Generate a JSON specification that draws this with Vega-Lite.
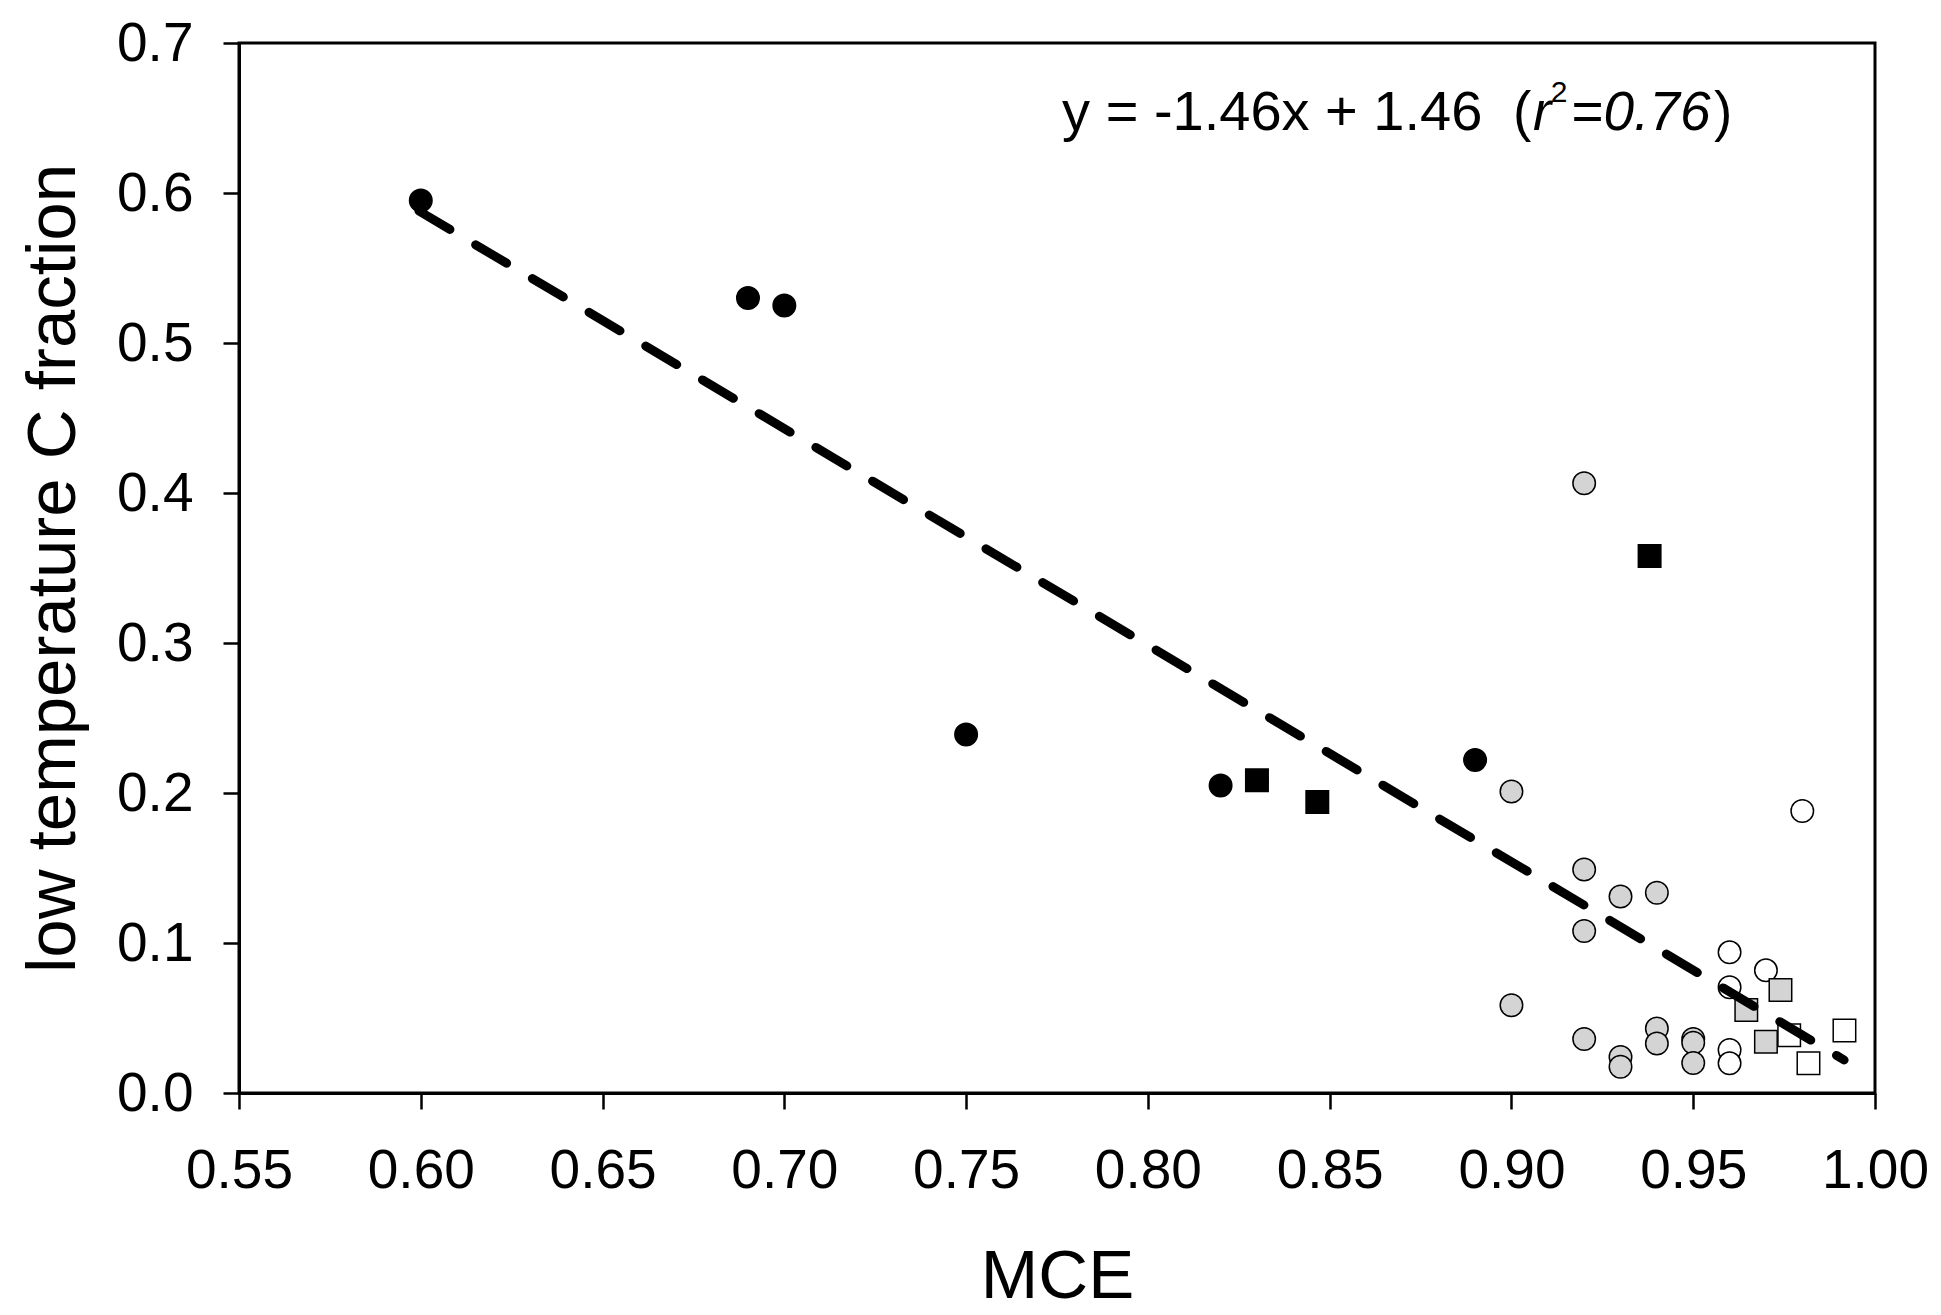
{
  "$schema": "https://vega.github.io/schema/vega-lite/v6.json",
  "width": 1636,
  "height": 1050,
  "autosize": {"type": "none"},
  "padding": {"left": 239, "top": 43, "right": 66, "bottom": 222},
  "background": "white",
  "config": {
    "view": {"stroke": "black", "strokeWidth": 3},
    "axis": {
      "grid": false,
      "domainColor": "black",
      "domainWidth": 3,
      "tickColor": "black",
      "tickWidth": 2.5,
      "tickSize": 16,
      "labelFont": "Liberation Sans",
      "labelFontSize": 55,
      "labelColor": "black",
      "labelFlush": false,
      "labelOverlap": false,
      "titleFont": "Liberation Sans",
      "titleFontSize": 69,
      "titleFontWeight": "normal",
      "titleColor": "black"
    },
    "axisX": {"labelPadding": 35, "titlePadding": 44},
    "axisY": {"labelPadding": 30, "titlePadding": 28}
  },
  "layer": [
    {
      "data": {
        "values": [
          {"mce": 0.600, "ltc": 0.595, "group": "black circle"},
          {"mce": 0.690, "ltc": 0.530, "group": "black circle"},
          {"mce": 0.700, "ltc": 0.525, "group": "black circle"},
          {"mce": 0.750, "ltc": 0.239, "group": "black circle"},
          {"mce": 0.820, "ltc": 0.205, "group": "black circle"},
          {"mce": 0.890, "ltc": 0.222, "group": "black circle"},
          {"mce": 0.920, "ltc": 0.4065, "group": "gray circle"},
          {"mce": 0.900, "ltc": 0.201, "group": "gray circle"},
          {"mce": 0.920, "ltc": 0.149, "group": "gray circle"},
          {"mce": 0.930, "ltc": 0.131, "group": "gray circle"},
          {"mce": 0.940, "ltc": 0.1335, "group": "gray circle"},
          {"mce": 0.920, "ltc": 0.108, "group": "gray circle"},
          {"mce": 0.900, "ltc": 0.0585, "group": "gray circle"},
          {"mce": 0.920, "ltc": 0.036, "group": "gray circle"},
          {"mce": 0.930, "ltc": 0.024, "group": "gray circle"},
          {"mce": 0.930, "ltc": 0.0175, "group": "gray circle"},
          {"mce": 0.940, "ltc": 0.043, "group": "gray circle"},
          {"mce": 0.940, "ltc": 0.033, "group": "gray circle"},
          {"mce": 0.950, "ltc": 0.036, "group": "gray circle"},
          {"mce": 0.950, "ltc": 0.0335, "group": "gray circle"},
          {"mce": 0.950, "ltc": 0.020, "group": "gray circle"},
          {"mce": 0.960, "ltc": 0.0938, "group": "white circle"},
          {"mce": 0.970, "ltc": 0.0818, "group": "white circle"},
          {"mce": 0.960, "ltc": 0.0705, "group": "white circle"},
          {"mce": 0.960, "ltc": 0.0287, "group": "white circle"},
          {"mce": 0.960, "ltc": 0.0198, "group": "white circle"},
          {"mce": 0.980, "ltc": 0.188, "group": "white circle"},
          {"mce": 0.830, "ltc": 0.2085, "group": "black square"},
          {"mce": 0.8466, "ltc": 0.194, "group": "black square"},
          {"mce": 0.938, "ltc": 0.358, "group": "black square"},
          {"mce": 0.974, "ltc": 0.0687, "group": "gray square"},
          {"mce": 0.9646, "ltc": 0.0553, "group": "gray square"},
          {"mce": 0.970, "ltc": 0.0342, "group": "gray square"},
          {"mce": 0.9764, "ltc": 0.0385, "group": "white square"},
          {"mce": 0.9916, "ltc": 0.0416, "group": "white square"},
          {"mce": 0.9817, "ltc": 0.0198, "group": "white square"}
        ]
      },
      "mark": {"type": "point", "filled": true, "stroke": "black", "strokeWidth": 1.5, "opacity": 1},
      "encoding": {
        "x": {
          "field": "mce", "type": "quantitative", "title": "MCE",
          "scale": {"domain": [0.55, 1.0], "nice": false, "zero": false},
          "axis": {"values": [0.55, 0.6, 0.65, 0.7, 0.75, 0.8, 0.85, 0.9, 0.95, 1.0], "format": ".2f"}
        },
        "y": {
          "field": "ltc", "type": "quantitative", "title": "low temperature C fraction",
          "scale": {"domain": [0, 0.7], "nice": false},
          "axis": {"values": [0, 0.1, 0.2, 0.3, 0.4, 0.5, 0.6, 0.7], "format": ".1f"}
        },
        "shape": {
          "field": "group", "type": "nominal", "legend": null,
          "scale": {
            "domain": ["black circle", "gray circle", "white circle", "black square", "gray square", "white square"],
            "range": ["circle", "circle", "circle", "square", "square", "square"]
          }
        },
        "fill": {
          "field": "group", "type": "nominal", "legend": null,
          "scale": {
            "domain": ["black circle", "gray circle", "white circle", "black square", "gray square", "white square"],
            "range": ["#000000", "#d4d4d4", "#ffffff", "#000000", "#d4d4d4", "#ffffff"]
          }
        },
        "size": {
          "field": "group", "type": "nominal", "legend": null,
          "scale": {
            "domain": ["black circle", "gray circle", "white circle", "black square", "gray square", "white square"],
            "range": [506, 506, 506, 400, 400, 400]
          }
        }
      }
    },
    {
      "data": {"values": [{"mce": 0.5995, "ltc": 0.588}, {"mce": 0.9915, "ltc": 0.022}]},
      "mark": {"type": "line", "color": "black", "strokeWidth": 9, "strokeDash": [36, 30], "strokeCap": "round"},
      "encoding": {
        "x": {"field": "mce", "type": "quantitative", "title": "MCE"},
        "y": {"field": "ltc", "type": "quantitative", "title": "low temperature C fraction"}
      }
    },
    {
      "data": {"values": [{}]},
      "mark": {"type": "text", "text": "y = -1.46x + 1.46", "align": "left", "baseline": "alphabetic", "font": "Liberation Sans", "fontSize": 56, "color": "black"},
      "encoding": {
        "x": {"datum": 0.7764, "type": "quantitative", "title": "MCE"},
        "y": {"datum": 0.642, "type": "quantitative", "title": "low temperature C fraction"}
      }
    },
    {
      "data": {"values": [{}]},
      "mark": {"type": "text", "text": "(", "align": "left", "baseline": "alphabetic", "font": "Liberation Sans", "fontSize": 55, "color": "black"},
      "encoding": {
        "x": {"datum": 0.9004, "type": "quantitative", "title": "MCE"},
        "y": {"datum": 0.642, "type": "quantitative", "title": "low temperature C fraction"}
      }
    },
    {
      "data": {"values": [{}]},
      "mark": {"type": "text", "text": "r", "align": "left", "baseline": "alphabetic", "font": "Liberation Sans", "fontStyle": "italic", "fontSize": 55, "color": "black"},
      "encoding": {
        "x": {"datum": 0.9059, "type": "quantitative", "title": "MCE"},
        "y": {"datum": 0.642, "type": "quantitative", "title": "low temperature C fraction"}
      }
    },
    {
      "data": {"values": [{}]},
      "mark": {"type": "text", "text": "2", "align": "left", "baseline": "alphabetic", "font": "Liberation Sans", "fontSize": 30, "color": "black"},
      "encoding": {
        "x": {"datum": 0.9108, "type": "quantitative", "title": "MCE"},
        "y": {"datum": 0.6607, "type": "quantitative", "title": "low temperature C fraction"}
      }
    },
    {
      "data": {"values": [{}]},
      "mark": {"type": "text", "text": "=", "align": "left", "baseline": "alphabetic", "font": "Liberation Sans", "fontSize": 55, "color": "black"},
      "encoding": {
        "x": {"datum": 0.9165, "type": "quantitative", "title": "MCE"},
        "y": {"datum": 0.642, "type": "quantitative", "title": "low temperature C fraction"}
      }
    },
    {
      "data": {"values": [{}]},
      "mark": {"type": "text", "text": "0.76", "align": "left", "baseline": "alphabetic", "font": "Liberation Sans", "fontStyle": "italic", "fontSize": 55, "color": "black"},
      "encoding": {
        "x": {"datum": 0.9253, "type": "quantitative", "title": "MCE"},
        "y": {"datum": 0.642, "type": "quantitative", "title": "low temperature C fraction"}
      }
    },
    {
      "data": {"values": [{}]},
      "mark": {"type": "text", "text": ")", "align": "left", "baseline": "alphabetic", "font": "Liberation Sans", "fontSize": 55, "color": "black"},
      "encoding": {
        "x": {"datum": 0.9557, "type": "quantitative", "title": "MCE"},
        "y": {"datum": 0.642, "type": "quantitative", "title": "low temperature C fraction"}
      }
    }
  ]
}
